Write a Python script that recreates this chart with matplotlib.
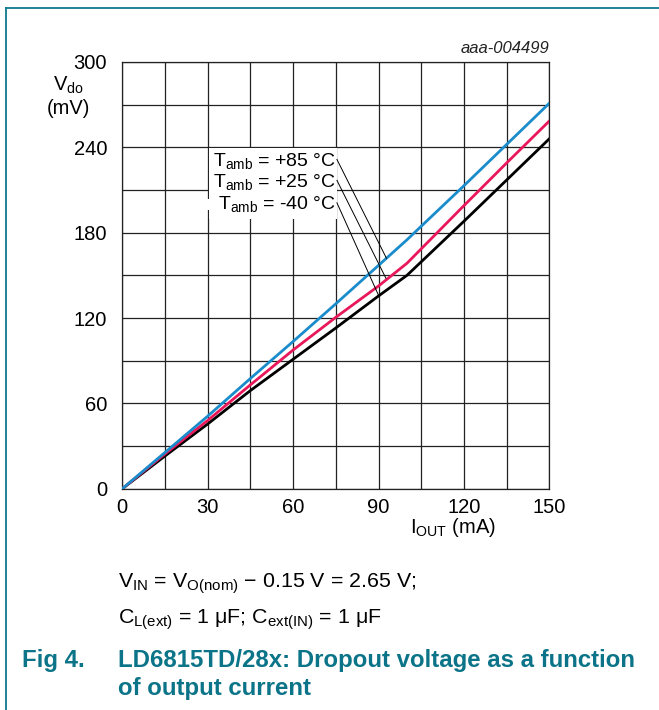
import matplotlib
matplotlib.use('Agg')
import numpy as np
from matplotlib import pyplot as plt
from matplotlib.lines import Line2D

plt.rcParams['font.family'] = ['Liberation Sans', 'DejaVu Sans']
plt.rcParams['mathtext.fontset'] = 'custom'
plt.rcParams['mathtext.rm'] = 'Liberation Sans'
plt.rcParams['mathtext.it'] = 'Liberation Sans:italic'
plt.rcParams['mathtext.bf'] = 'Liberation Sans:bold'

# dropout voltage (mV) vs output current (mA)
i_out = [0, 15, 30, 45, 60, 75, 90, 100, 120, 135, 150]
vdo_85 = [0, 25.5, 51, 77.5, 103.5, 130, 157, 175, 213, 242, 271]
vdo_25 = [0, 24.5, 48, 73, 97.5, 120.5, 142.5, 158.5, 199, 229, 258.5]
vdo_m40 = [0, 23, 45.5, 69, 91, 113, 135.5, 150, 188, 217, 246]

labels = ['T$_{\\mathrm{amb}}$ = +85 °C',
          'T$_{\\mathrm{amb}}$ = +25 °C',
          'T$_{\\mathrm{amb}}$ = -40 °C']
# where each leader line touches its curve
leader_x = [92.8, 92.6, 90.0]
leader_y = [162, 148, 136]

x_ticks = [0, 30, 60, 90, 120, 150]
y_ticks = [0, 60, 120, 180, 240, 300]

blue = '#1a8ccc'
pink = '#e8185a'
teal = '#0b7488'

W, H = 659, 710
fig = plt.figure(figsize=(W / 100, H / 100), dpi=100)

ax = fig.add_axes([122.3 / W, 1 - 488.7 / H, 427 / W, 426.7 / H])
ax.set_xlim(0, 150)
ax.set_ylim(0, 300)
ax.set_xticks(np.arange(0, 151, 15), minor=True)
ax.set_yticks(np.arange(0, 301, 30), minor=True)
ax.set_xticks(x_ticks)
ax.set_yticks(y_ticks)
ax.tick_params(which='both', length=0, labelsize=14.5)
ax.tick_params(axis='x', pad=7)
ax.tick_params(axis='y', pad=11)
ax.grid(True, which='both', color='#222222', lw=0.9)
for s in ax.spines.values():
    s.set_color('#222222')
    s.set_linewidth(0.9)

ax.plot(i_out, vdo_m40, color='black', lw=2.0, zorder=3)
ax.plot(i_out, vdo_25, color=pink, lw=2.0, zorder=3)
ax.plot(i_out, vdo_85, color=blue, lw=2.0, zorder=3)

# label block with white background masking the grid
ax.add_patch(plt.Rectangle((30.4, 189.6), 45.0, 50.0, facecolor='white',
                           edgecolor='none', zorder=2))
ax.add_patch(plt.Rectangle((22.0, 196.0), 9.0, 8.0, facecolor='white',
                           edgecolor='none', zorder=2))
text_y = [230.5, 215.8, 200.0]
for lab, ty, lx, ly in zip(labels, text_y, leader_x, leader_y):
    ax.text(75.0, ty, lab, ha='right', va='center', fontsize=14, zorder=4)
    ax.add_line(Line2D([75.4, lx], [ty + 1, ly], color='black', lw=0.7, zorder=4))

ax.text(150, 304, 'aaa-004499', ha='right', va='bottom', fontsize=12,
        style='italic', color='#222222')

fig.text(68 / W, 1 - 91 / H, 'V$_{\\mathrm{do}}$', ha='center', va='baseline', fontsize=14.5)
fig.text(68 / W, 1 - 114 / H, '(mV)', ha='center', va='baseline', fontsize=14.5)
fig.text(453 / W, 1 - 533 / H, 'I$_{\\mathrm{OUT}}$ (mA)', ha='center', va='baseline', fontsize=14.5)

fig.text(118 / W, 1 - 584 / H,
         'V$_{\\mathrm{IN}}$ = V$_{\\mathrm{O(nom)}}$ \u2212 0.15 V = 2.65 V;',
         ha='left', va='center', fontsize=15.4)
fig.text(118 / W, 1 - 620 / H,
         'C$_{\\mathrm{L(ext)}}$ = 1 \u03bcF; C$_{\\mathrm{ext(IN)}}$ = 1 \u03bcF',
         ha='left', va='center', fontsize=15.4)

fig.text(22 / W, 1 - 660 / H, 'Fig 4.', ha='left', va='center', fontsize=17.3,
         fontweight='bold', color=teal)
fig.text(118 / W, 1 - 660 / H, 'LD6815TD/28x: Dropout voltage as a function',
         ha='left', va='center', fontsize=17.3, fontweight='bold', color=teal)
fig.text(118 / W, 1 - 688 / H, 'of output current',
         ha='left', va='center', fontsize=17.3, fontweight='bold', color=teal)

# page frame (top and left)
fig.add_artist(Line2D([5.5 / W, 1], [1 - 8 / H, 1 - 8 / H], color='#0f7a8c', lw=1.3,
                      transform=fig.transFigure))
fig.add_artist(Line2D([5.5 / W, 5.5 / W], [0, 1 - 8 / H], color='#0f7a8c', lw=1.3,
                      transform=fig.transFigure))

fig.savefig('out.png', dpi=100)
